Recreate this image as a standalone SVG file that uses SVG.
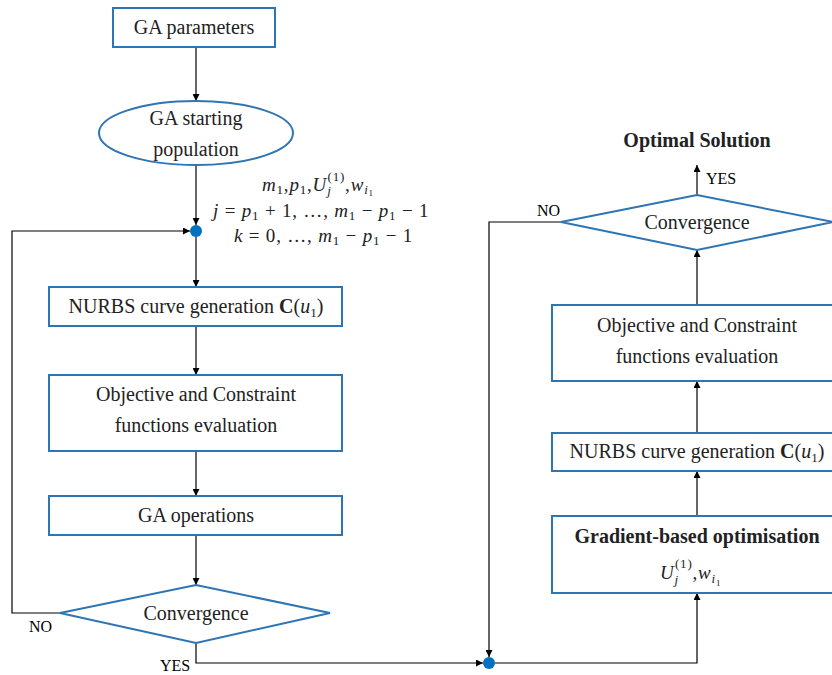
<svg xmlns="http://www.w3.org/2000/svg" width="832" height="675" viewBox="0 0 832 675">
<style>
.box{fill:#fff;stroke:#2E75B6;stroke-width:2}
.ln{fill:none;stroke:#000;stroke-width:1.2}
.t{font-family:"Liberation Serif",serif;font-size:20px;fill:#222;text-anchor:middle}
.b{font-weight:bold}
.lab{font-family:"Liberation Serif",serif;font-size:16px;fill:#000}
.m{font-family:"Liberation Serif",serif;font-size:19px;fill:#222;letter-spacing:0.8px}
.i{font-style:italic}
.s{font-size:13px}
.ss{font-size:9px}
.dot{fill:#0070C0}
</style>
<defs>
<marker id="ah" viewBox="0 0 10 10" refX="10" refY="5" markerWidth="7" markerHeight="7" orient="auto" markerUnits="userSpaceOnUse">
<path d="M0,0 L10,5 L0,10 z" fill="#000"/>
</marker>
</defs>
<g id="connectors">
<line class="ln" x1="196" y1="47" x2="196" y2="101" marker-end="url(#ah)"/>
<line class="ln" x1="196" y1="165" x2="196" y2="225" marker-end="url(#ah)"/>
<line class="ln" x1="196" y1="237" x2="196" y2="287" marker-end="url(#ah)"/>
<line class="ln" x1="196" y1="326" x2="196" y2="375" marker-end="url(#ah)"/>
<line class="ln" x1="196" y1="451" x2="196" y2="496" marker-end="url(#ah)"/>
<line class="ln" x1="196" y1="535" x2="196" y2="585" marker-end="url(#ah)"/>
<polyline class="ln" points="60,613 12,613 12,231 190,231" marker-end="url(#ah)"/>
<polyline class="ln" points="196,643 196,663 483,663" marker-end="url(#ah)"/>
<polyline class="ln" points="561,222 489,222 489,657" marker-end="url(#ah)"/>
<polyline class="ln" points="495,663 697,663 697,593" marker-end="url(#ah)"/>
<line class="ln" x1="697" y1="516" x2="697" y2="471" marker-end="url(#ah)"/>
<line class="ln" x1="697" y1="433" x2="697" y2="381" marker-end="url(#ah)"/>
<line class="ln" x1="697" y1="305" x2="697" y2="250" marker-end="url(#ah)"/>
<line class="ln" x1="697" y1="195" x2="697" y2="165" marker-end="url(#ah)"/>
<text class="lab" x="29" y="632">NO</text>
<text class="lab" x="160" y="671">YES</text>
<text class="lab" x="537" y="216">NO</text>
<text class="lab" x="706" y="184">YES</text>
</g>
<g id="ga-params">
<rect class="box" x="113" y="8" width="162" height="39"/>
<text class="t" x="194" y="34">GA parameters</text>
</g>
<g id="ga-start">
<ellipse class="box" cx="196" cy="133" rx="97" ry="32"/>
<text class="t" x="196" y="125">GA starting</text>
<text class="t" x="196" y="156">population</text>
</g>
<g id="dot1"><circle class="dot" cx="196" cy="231" r="6"/></g>
<g id="params-text">
<text class="m" x="262" y="191"><tspan class="i">m</tspan><tspan class="s" dy="3">1</tspan><tspan dy="-3">,</tspan><tspan class="i">p</tspan><tspan class="s" dy="3">1</tspan><tspan dy="-3">,</tspan><tspan class="i">U</tspan><tspan class="s i" dy="4">j</tspan><tspan class="s" dx="-4" dy="-14">(1)</tspan><tspan dy="10">,</tspan><tspan class="i">w</tspan><tspan class="s i" dy="3">i</tspan><tspan class="ss" dy="2">1</tspan></text>
<text class="m" x="213" y="217"><tspan class="i">j</tspan> = <tspan class="i">p</tspan><tspan class="s" dy="3">1</tspan><tspan dy="-3"> + 1, …, </tspan><tspan class="i">m</tspan><tspan class="s" dy="3">1</tspan><tspan dy="-3"> − </tspan><tspan class="i">p</tspan><tspan class="s" dy="3">1</tspan><tspan dy="-3"> − 1</tspan></text>
<text class="m" x="234" y="242"><tspan class="i">k</tspan> = 0, …, <tspan class="i">m</tspan><tspan class="s" dy="3">1</tspan><tspan dy="-3"> − </tspan><tspan class="i">p</tspan><tspan class="s" dy="3">1</tspan><tspan dy="-3"> − 1</tspan></text>
</g>
<g id="nurbs1">
<rect class="box" x="49" y="287" width="293" height="39"/>
<text class="t" x="196" y="313">NURBS curve generation <tspan class="b">C</tspan>(<tspan class="i">u</tspan><tspan class="s" dy="4">1</tspan><tspan dy="-4">)</tspan></text>
</g>
<g id="obj1">
<rect class="box" x="49" y="375" width="293" height="76"/>
<text class="t" x="196" y="401">Objective and Constraint</text>
<text class="t" x="196" y="432">functions evaluation</text>
</g>
<g id="gaops">
<rect class="box" x="49" y="496" width="293" height="39"/>
<text class="t" x="196" y="522">GA operations</text>
</g>
<g id="conv1">
<polygon class="box" points="60,613 196,585 330,613 196,643"/>
<text class="t" x="196" y="620">Convergence</text>
</g>
<g id="dot2"><circle class="dot" cx="489" cy="663" r="6"/></g>
<g id="gradient">
<rect class="box" x="552" y="516" width="290" height="77"/>
<text class="t b" x="697" y="543">Gradient-based optimisation</text>
<text class="m" x="660" y="579"><tspan class="i">U</tspan><tspan class="s i" dy="5">j</tspan><tspan class="s" dx="-4" dy="-16">(1)</tspan><tspan dy="11">,</tspan><tspan class="i">w</tspan><tspan class="s i" dy="4">i</tspan><tspan class="ss" dy="3">1</tspan></text>
</g>
<g id="nurbs2">
<rect class="box" x="552" y="433" width="290" height="38"/>
<text class="t" x="697" y="458">NURBS curve generation <tspan class="b">C</tspan>(<tspan class="i">u</tspan><tspan class="s" dy="4">1</tspan><tspan dy="-4">)</tspan></text>
</g>
<g id="obj2">
<rect class="box" x="552" y="305" width="290" height="76"/>
<text class="t" x="697" y="332">Objective and Constraint</text>
<text class="t" x="697" y="363">functions evaluation</text>
</g>
<g id="conv2">
<polygon class="box" points="561,222 697,195 833,222 697,250"/>
<text class="t" x="697" y="229">Convergence</text>
</g>
<g id="optimal">
<text class="t b" x="697" y="147">Optimal Solution</text>
</g>
</svg>
